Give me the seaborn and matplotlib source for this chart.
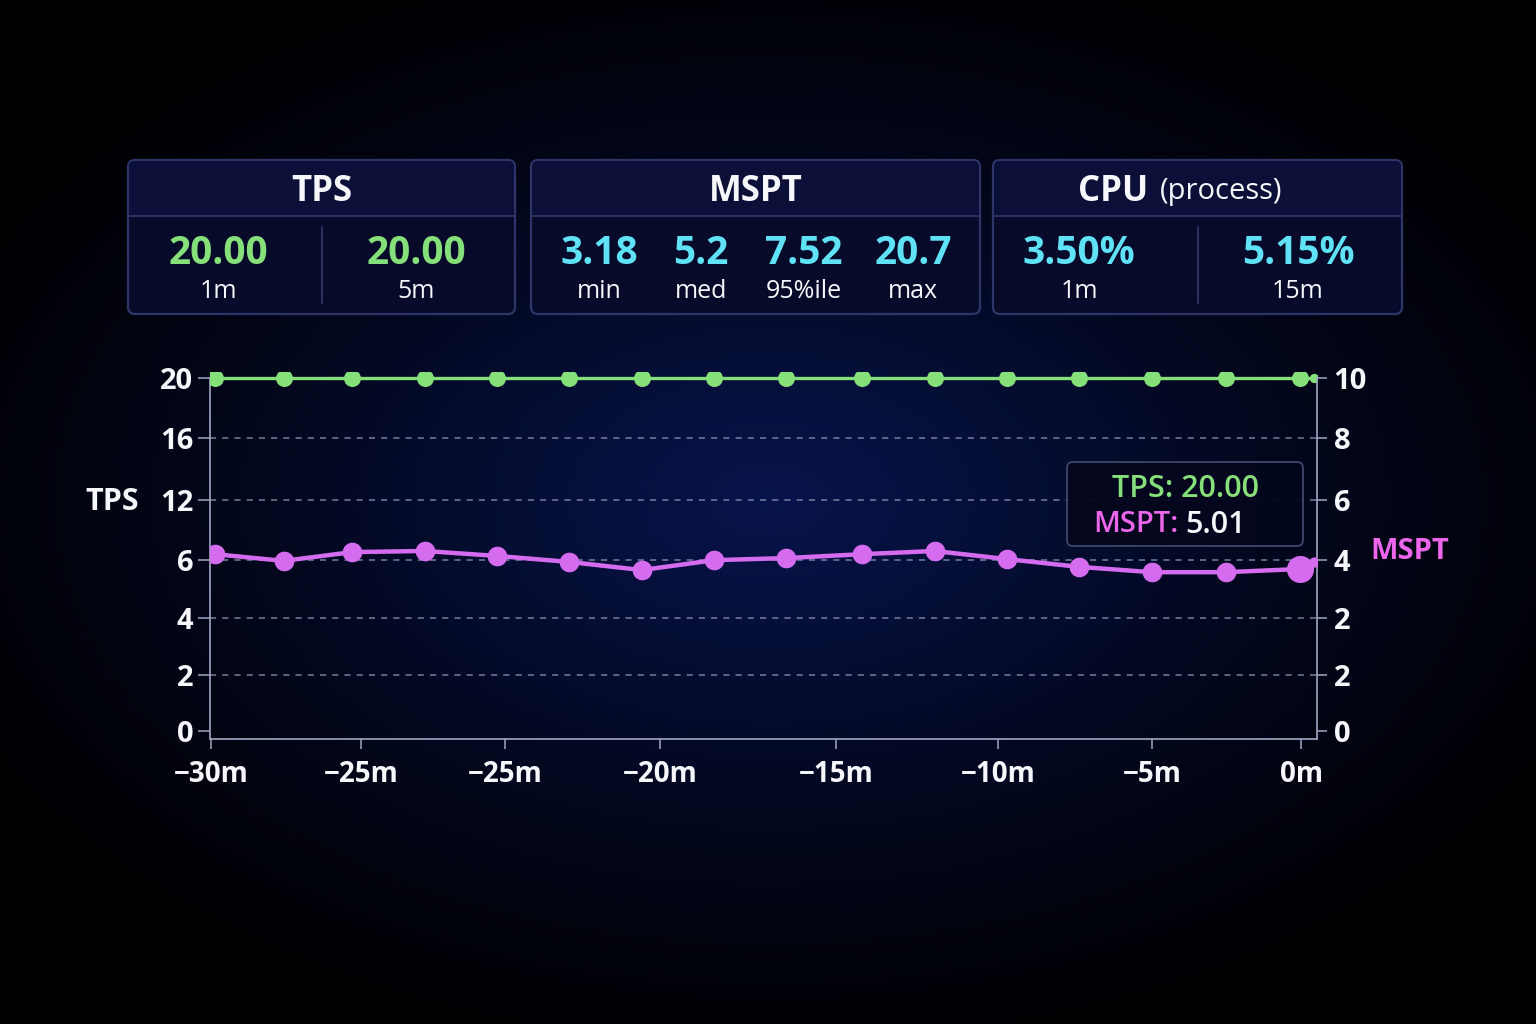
import numpy as np
import matplotlib
matplotlib.use("Agg")
import matplotlib.pyplot as plt
from matplotlib.patches import FancyBboxPatch
import seaborn as sns

# data
minutes = [-30, -28.1, -26.2, -24.2, -22.2, -20.2, -18.2, -16.2, -14.2, -12.1, -10.1, -8.1, -6.1, -4.1, -2.05, 0]
tps = [20.0] * 16
mspt = [5.01, 4.82, 5.07, 5.10, 4.96, 4.79, 4.56, 4.84, 4.90, 5.01, 5.10, 4.87, 4.65, 4.50, 4.50, 4.59]
live_minute = 0.4
live_tps = 20.0
live_mspt = 4.80

# tick layout (odd labels kept as in the reference)
x_tick_pos = [-30.1, -25.96, -21.98, -17.7, -12.83, -8.35, -4.09, 0.03]
x_tick_labels = ["−30m", "−25m", "−25m", "−20m", "−15m", "−10m", "−5m", "0m"]
y_tick_pos = [0, 3.17, 6.4, 9.69, 13.09, 16.6, 20]
y_left_labels = ["0", "2", "4", "6", "12", "16", "20"]
y_right_labels = ["0", "2", "2", "4", "6", "8", "10"]

# stat cards
tps_stats = [("20.00", "1m"), ("20.00", "5m")]
mspt_stats = [("3.18", "min"), ("5.2", "med"), ("7.52", "95%ile"), ("20.7", "max")]
cpu_stats = [("3.50%", "1m"), ("5.15%", "15m")]

GREEN = "#86e07a"
MAGENTA = "#d56cf0"
PINK = "#ec66ec"
CYAN = "#5fe2f5"
WHITE = "#f6f7fb"
GRID = "#8c92b4"

sns.set_theme(style="dark")
plt.rcParams["font.family"] = ["Open Sans", "DejaVu Sans"]

fig = plt.figure(figsize=(15.36, 10.24), dpi=100)

# radial gradient background
bg = fig.add_axes([0, 0, 1, 1], zorder=0)
yy, xx = np.mgrid[0:1024, 0:1536]
r = np.sqrt(((xx - 770) / 900.0) ** 2 + ((yy - 500) / 560.0) ** 2)
t = np.clip(1 - r, 0, 1) ** 1.2
c0 = np.array([0.0, 0.0, 0.01])
c1 = np.array([0.03, 0.08, 0.30])
img = c0 + (c1 - c0) * t[..., None]
bg.imshow(img, extent=[0, 1536, 1024, 0], aspect="auto")
bg.set_xlim(0, 1536)
bg.set_ylim(1024, 0)
bg.axis("off")

# main chart
ax = fig.add_axes([210 / 1536, 1 - 739 / 1024, 1107 / 1536, 367 / 1024], zorder=1)
ax.set_facecolor("none")
ax2 = ax.twinx()
ax2.set_facecolor("none")

sns.lineplot(x=minutes + [live_minute], y=tps + [live_tps], ax=ax, color=GREEN, linewidth=2.4)
sns.scatterplot(x=minutes, y=tps, ax=ax, color=GREEN, s=150, linewidth=0, zorder=5)
sns.scatterplot(x=[live_minute], y=[live_tps], ax=ax, color=GREEN, s=45, linewidth=0, zorder=5)

sns.lineplot(x=minutes + [live_minute], y=mspt + [live_mspt], ax=ax2, color=MAGENTA, linewidth=3.2)
sns.scatterplot(x=minutes[:-1], y=mspt[:-1], ax=ax2, color=MAGENTA, s=200, linewidth=0, zorder=5)
sns.scatterplot(x=minutes[-1:], y=mspt[-1:], ax=ax2, color=MAGENTA, s=380, linewidth=0, zorder=6)
sns.scatterplot(x=[live_minute], y=[live_mspt], ax=ax2, color=MAGENTA, s=55, linewidth=0, zorder=5)

ax.set_xlim(-30.14, 0.47)
ax.set_ylim(-0.45, 20.34)
ax2.set_ylim(-0.225, 10.17)

ax.set_xticks(x_tick_pos)
ax.set_xticklabels(x_tick_labels)
ax.set_yticks(y_tick_pos)
ax.set_yticklabels(y_left_labels)
ax2.set_yticks([p / 2 for p in y_tick_pos])
ax2.set_yticklabels(y_right_labels)

for a in (ax, ax2):
    a.grid(False)
    for s in a.spines.values():
        s.set_visible(False)
for p in y_tick_pos[1:-1]:
    ax.axhline(p, color=GRID, linestyle=(0, (4, 4)), linewidth=1.1, alpha=0.85, zorder=1)

ax.spines["left"].set_visible(True)
ax.spines["left"].set_bounds(-0.45, 20)
ax.spines["bottom"].set_visible(True)
ax2.spines["right"].set_visible(True)
ax2.spines["right"].set_bounds(-0.225, 10)
for s in (ax.spines["left"], ax.spines["bottom"], ax2.spines["right"]):
    s.set_color("#a0a6c4")
    s.set_linewidth(1.2)

ax.tick_params(axis="y", colors="#a0a6c4", labelcolor=WHITE, labelsize=21, length=9, width=1.1,
               direction="out", pad=3, left=True)
ax.tick_params(axis="x", colors="#a0a6c4", labelcolor=WHITE, labelsize=20, length=7, width=1.1,
               direction="out", pad=8, bottom=True)
ax2.tick_params(axis="y", colors="#a0a6c4", labelcolor=WHITE, labelsize=21, length=7, width=1.1,
                direction="out", pad=5, right=True)
for lab in ax.get_xticklabels() + ax.get_yticklabels() + ax2.get_yticklabels():
    lab.set_fontweight("bold")

ax.set_ylabel("TPS", rotation=0, color=WHITE, fontsize=22, fontweight="bold", va="center", ha="center")
ax.yaxis.set_label_coords(-0.088, 0.645)
ax2.set_ylabel("MSPT", rotation=0, color=PINK, fontsize=21, fontweight="bold", va="center", ha="center")
ax2.yaxis.set_label_coords(1.084, 0.51)
ax.set_xlabel("")

# overlay in pixel coordinates for cards and tooltip
ov = fig.add_axes([0, 0, 1, 1], zorder=3)
ov.set_xlim(0, 1536)
ov.set_ylim(1024, 0)
ov.axis("off")


def card(x0, x1, title, stats, color, cols, dividers=False, subtitle=None):
    y0, y1 = 160, 314
    ov.add_patch(FancyBboxPatch((x0, y0), x1 - x0, y1 - y0, boxstyle="round,pad=0,rounding_size=7",
                                facecolor="#070a28", edgecolor="#2e3568", linewidth=1.6))
    ov.add_patch(FancyBboxPatch((x0 + 1, y0 + 1), x1 - x0 - 2, 55, boxstyle="round,pad=0,rounding_size=6",
                                facecolor="#0c1038", edgecolor="none"))
    ov.plot([x0 + 1, x1 - 1], [216, 216], color="#2e3568", linewidth=1.3)
    cx = (x0 + x1) / 2
    if subtitle:
        ov.text(cx - 49, 192, title, color=WHITE, fontsize=25, fontweight="bold", ha="right", va="center")
        ov.text(cx - 38, 192, subtitle, color=WHITE, fontsize=21, ha="left", va="center")
    else:
        ov.text(cx, 192, title, color=WHITE, fontsize=25, fontweight="bold", ha="center", va="center")
    for (val, lab), xc in zip(stats, cols):
        ov.text(xc, 254, val, color=color, fontsize=28, fontweight="bold", ha="center", va="center")
        ov.text(xc, 292, lab, color=WHITE, fontsize=18, ha="center", va="center")
    if dividers:
        ov.plot([cx, cx], [227, 303], color="#2e3568", linewidth=1.3)


card(128, 515, "TPS", tps_stats, GREEN, [218, 416], dividers=True)
card(531, 980, "MSPT", mspt_stats, CYAN, [599, 701, 804, 913])
card(993, 1402, "CPU", cpu_stats, CYAN, [1079, 1298], dividers=True, subtitle="(process)")

# tooltip
ov.add_patch(FancyBboxPatch((1067, 462), 236, 84, boxstyle="round,pad=0,rounding_size=6",
                            facecolor="#03061c", edgecolor="#40466a", linewidth=1.4, alpha=0.95))
ov.text(1185, 489, "TPS: 20.00", color=GREEN, fontsize=22, fontweight="semibold", ha="center", va="center")
ov.text(1178, 525, "MSPT:", color=PINK, fontsize=21, fontweight="semibold", ha="right", va="center")
ov.text(1185, 525, "5.01", color=WHITE, fontsize=22, fontweight="semibold", ha="left", va="center")

fig.savefig("out.png", dpi=100)
